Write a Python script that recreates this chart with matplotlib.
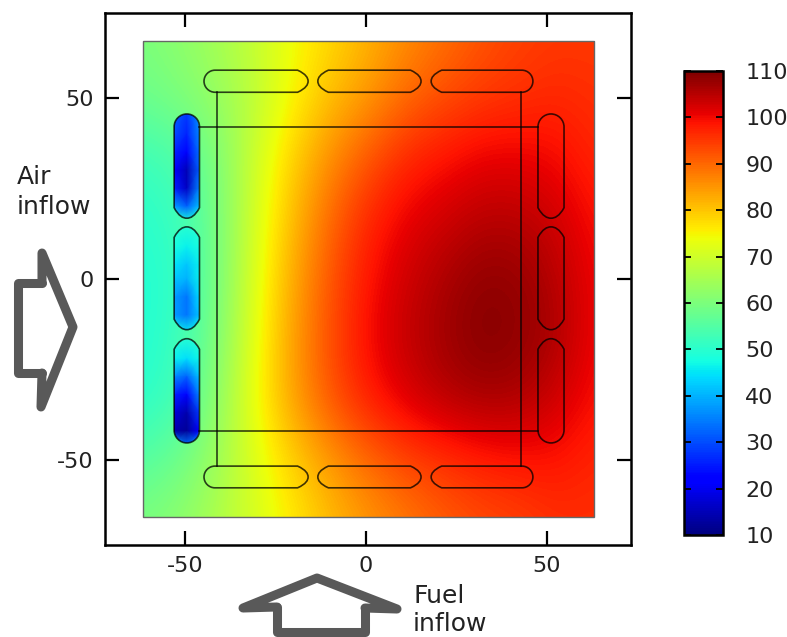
import numpy as np
import matplotlib
matplotlib.use("Agg")
import matplotlib.pyplot as plt
from matplotlib.path import Path
from matplotlib.patches import PathPatch, Rectangle

plt.rcParams["axes.unicode_minus"] = False

# temperature field, rows from top to bottom
field_x = [-62, -51.6, -41.2, -30.7, -20.3, -9.9, 0.5, 10.9, 21.3, 31.8, 42.2, 52.6, 63]
field_y = [66, 49.5, 33, 16.5, 0, -16.5, -33, -49.5, -66]
field_t = [
    [60, 62, 65, 69, 74, 78, 82, 86, 89, 92, 94, 95, 95],
    [58, 60, 63, 68, 75, 81, 85, 90, 93, 95, 96, 97, 96],
    [52, 54, 60, 70, 79, 86, 92, 97, 99, 101, 101, 100, 97],
    [50, 52, 59, 71, 81, 90, 97, 101, 103, 105, 105, 103, 99],
    [49, 51, 59, 72, 83, 92, 99, 103, 106, 108.5, 108, 105, 100],
    [49, 52, 60, 73, 84, 93, 100, 104, 107, 109.5, 108.5, 106, 100],
    [50, 53, 62, 74, 84, 92, 98, 102, 105, 106.5, 106, 103, 99],
    [55, 58, 64, 72, 79, 85, 90, 94, 96, 98, 99, 99, 97],
    [60, 62, 66, 71, 76, 81, 85, 88, 91, 93, 94, 96, 96],
]

# cold air channels on the left side
chan_x = [-53, -49.5, -46]
top_y = [46, 40, 35, 30, 25, 20, 16]
top_t = [[32, 28, 36], [30, 26, 36], [26, 22, 34], [22, 15, 32], [26, 16, 36], [38, 32, 42], [50, 48, 50]]
mid_y = [15, 9, 4, 0, -5, -10, -15]
mid_t = [[50, 50, 50], [48, 46, 48], [45, 42, 46], [42, 40, 46], [38, 34, 44], [38, 34, 42], [48, 46, 48]]
low_y = [-16, -22, -27, -32, -37, -42, -46]
low_t = [[50, 50, 50], [46, 44, 47], [36, 32, 42], [26, 22, 36], [18, 14, 28], [14, 12, 22], [40, 34, 42]]

x_ticks = [-50, 0, 50]
y_ticks = [-50, 0, 50]
cbar_ticks = [10, 20, 30, 40, 50, 60, 70, 80, 90, 100, 110]

# arrows, in picture pixels
air_body = ([42, 18, 18, 42], [283, 283, 373, 373])
air_head = ([42, 42, 73, 41, 42], [283, 253, 327, 407, 373])
fuel_body = ([277, 277, 365, 365], [607, 632, 632, 608])
fuel_head = ([277, 243, 317, 397, 365], [607, 608, 578, 609, 608])


def channel_path(a, b, c0, c1, start_round, end_round, vertical):
    # outline of one channel, a..b along it and c0..c1 across it
    w = (c1 - c0) / 2
    mid = (c0 + c1) / 2
    k = 0.55 * w
    d = 2.9
    pts = []
    codes = []
    if start_round:
        pts += [(a + w, c1), (a + w - k, c1), (a, mid + k), (a, mid), (a, mid - k), (a + w - k, c0), (a + w, c0)]
        codes += [Path.MOVETO] + [Path.CURVE4] * 6
    else:
        pts += [(a + d, c1), (a + d * 0.2, c1 - w * 0.35), (a, mid + w * 0.3), (a, mid),
                (a, mid - w * 0.3), (a + d * 0.2, c0 + w * 0.35), (a + d, c0)]
        codes += [Path.MOVETO] + [Path.CURVE4] * 6
    if end_round:
        pts += [(b - w, c0), (b - w + k, c0), (b, mid - k), (b, mid), (b, mid + k), (b - w + k, c1), (b - w, c1)]
        codes += [Path.LINETO] + [Path.CURVE4] * 6
    else:
        pts += [(b - d, c0), (b - d * 0.2, c0 + w * 0.35), (b, mid - w * 0.3), (b, mid),
                (b, mid + w * 0.3), (b - d * 0.2, c1 - w * 0.35), (b - d, c1)]
        codes += [Path.LINETO] + [Path.CURVE4] * 6
    pts.append(pts[0])
    codes.append(Path.CLOSEPOLY)
    pts = np.array(pts)
    if vertical:
        pts = pts[:, ::-1]
    return Path(pts, codes)


fig = plt.figure(figsize=(7.87, 6.37), dpi=100)
W, H = 787, 637
ax = fig.add_axes([105 / W, 1 - 545 / H, 526 / W, 532 / H])
norm = plt.Normalize(10, 110)

dx = (field_x[-1] - field_x[0]) / (len(field_x) - 1) / 2
dy = (field_y[0] - field_y[-1]) / (len(field_y) - 1) / 2
img = ax.imshow(np.array(field_t), cmap="jet", norm=norm, interpolation="bicubic", aspect="auto",
                extent=[field_x[0] - dx, field_x[-1] + dx, field_y[-1] - dy, field_y[0] + dy])
domain = Rectangle((-61.6, -65.7), 124.6, 131.4, fc="none", ec="#666666", lw=1.0)
ax.add_patch(domain)
img.set_clip_path(domain)

line_kw = dict(color="black", alpha=0.75, lw=1.2)
vert_spans = [(16.8, 45.6, False, True), (-14, 14.4, False, False), (-45.3, -16.5, True, False)]
vert_tables = [(top_y, top_t), (mid_y, mid_t), (low_y, low_t)]
hor_spans = [(-44.75, -16, True, False), (-13.3, 15.2, False, False), (18, 46.1, False, True)]

# left channels carry their own colours, clipped to the outline
for (a, b, sr, er), (ys, ts) in zip(vert_spans, vert_tables):
    p = channel_path(a, b, -53, -46, sr, er, True)
    patch = PathPatch(p, fc="none", ec="none", transform=ax.transData)
    ax.add_patch(patch)
    m = ax.pcolormesh(chan_x, ys, np.array(ts), cmap="jet", norm=norm, shading="gouraud")
    m.set_clip_path(patch)

for cx0, cx1 in [(-53, -46), (47.5, 54.7)]:
    for a, b, sr, er in vert_spans:
        ax.add_patch(PathPatch(channel_path(a, b, cx0, cx1, sr, er, True), fc="none", ec="black", alpha=0.75, lw=1.2))
for cy0, cy1 in [(51.6, 57.7), (-57.7, -51.7)]:
    for a, b, sr, er in hor_spans:
        ax.add_patch(PathPatch(channel_path(a, b, cy0, cy1, sr, er, False), fc="none", ec="black", alpha=0.75, lw=1.2))

# inner frame between the channels
ax.plot([-41.2, -41.2], [51.6, -51.7], **line_kw)
ax.plot([42.8, 42.8], [51.6, -51.7], **line_kw)
ax.plot([-46, 47.5], [42, 42], **line_kw)
ax.plot([-46, 47.5], [-42, -42], **line_kw)

ax.set_xlim(-72.1, 73.2)
ax.set_ylim(-73.5, 73.5)
ax.set_xticks(x_ticks)
ax.set_yticks(y_ticks)
ax.tick_params(direction="in", length=10, width=1.6, top=True, right=True, labelsize=16, pad=8, labelcolor="#222222")
for s in ax.spines.values():
    s.set_linewidth(1.8)

cax = fig.add_axes([684 / W, 1 - 535 / H, 39 / W, 464 / H])
cb = fig.colorbar(img, cax=cax, ticks=cbar_ticks)
cb.minorticks_off()
cax.tick_params(direction="in", length=5, width=1.3, left=True, right=True, labelsize=16, pad=16, labelcolor="#222222")
cb.outline.set_linewidth(1.8)

# overlay in picture pixels for the arrows and their labels
over = fig.add_axes([0, 0, 1, 1])
over.set_xlim(0, W)
over.set_ylim(H, 0)
over.set_axis_off()
for xs, ys in [air_body, fuel_body, air_head, fuel_head]:
    over.plot(xs, ys, color="#595959", lw=6.5, solid_capstyle="round", solid_joinstyle="round")

over.text(17, 177, "Air", fontsize=18, va="center", ha="left", color="#222222")
over.text(17, 207, "inflow", fontsize=18, va="center", ha="left", color="#222222")
over.text(413, 596, "Fuel", fontsize=18, va="center", ha="left", color="#222222")
over.text(413, 624, "inflow", fontsize=18, va="center", ha="left", color="#222222")

fig.savefig("out.png", dpi=100)
